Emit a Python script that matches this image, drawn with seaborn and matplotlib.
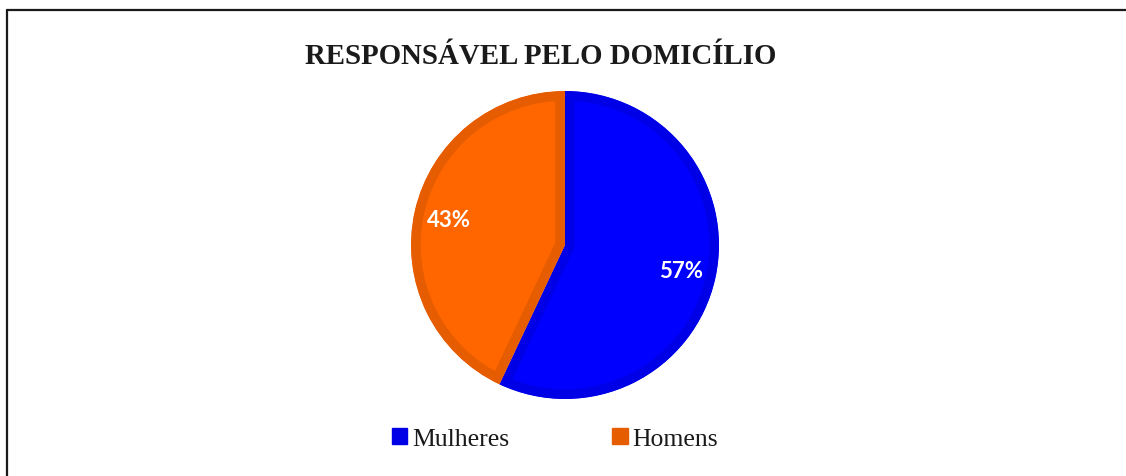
import matplotlib
matplotlib.use("Agg")
import matplotlib.pyplot as plt
import seaborn as sns
from matplotlib.lines import Line2D
from matplotlib.patches import Patch

# Data
categories = ["Mulheres", "Homens"]
shares = [57, 43]
fill_colors = ["#0000FF", "#FF6600"]
edge_colors = ["#0000E6", "#E65C00"]
title = "RESPONSÁVEL PELO DOMICÍLIO"

sns.set_theme(style="white")
plt.rcParams["font.family"] = ["Liberation Serif", "DejaVu Serif"]

fig = plt.figure(figsize=(11.26, 4.77), dpi=100)
fig.patch.set_facecolor("white")

# pie axes, centred on the chart area
cx, cy, r = 565 / 1126, 1 - 246 / 477, 154
ax = fig.add_axes([cx - r / 1126, cy - r / 477, 2 * r / 1126, 2 * r / 477])

wedges, texts, autotexts = ax.pie(
    shares,
    colors=fill_colors,
    startangle=90,
    counterclock=False,
    radius=1.0,
    autopct=lambda p: f"{p:.0f}%",
    pctdistance=0.77,
    wedgeprops=dict(linewidth=14),
    textprops=dict(color="white", fontsize=16, fontweight="bold", family=["Lato", "DejaVu Sans"]),
)
# Excel-like inner border: stroke clipped to each wedge
for w, ec in zip(wedges, edge_colors):
    w.set_edgecolor(ec)
    w.set_joinstyle("miter")
    w.set_clip_on(True)
    w.set_clip_path(w)
ax.set_xlim(-1, 1)
ax.set_ylim(-1, 1)
ax.set_aspect("equal")
ax.axis("off")

fig.text(0.48, 1 - 56 / 477, title, ha="center", va="center",
         fontsize=20.8, fontweight="bold", color="#1a1a1a")

handles = [Patch(facecolor=ec, edgecolor=ec, label=c) for c, ec in zip(categories, edge_colors)]
fig.legend(handles=handles, loc="center", bbox_to_anchor=(555 / 1126, 1 - 440 / 477),
           ncol=2, frameon=False, fontsize=18.5, handlelength=0.6, handleheight=0.6,
           handletextpad=0.2, columnspacing=4.0, labelcolor="#1a1a1a")

# outer frame: top and left edges only
fig.add_artist(Line2D([6.5 / 1126, 1], [1 - 10.5 / 477] * 2, color="#1a1a1a", lw=1.6,
                      transform=fig.transFigure))
fig.add_artist(Line2D([6.5 / 1126] * 2, [0, 1 - 10.5 / 477], color="#1a1a1a", lw=1.6,
                      transform=fig.transFigure))

fig.savefig("out.png", dpi=100, facecolor="white")
